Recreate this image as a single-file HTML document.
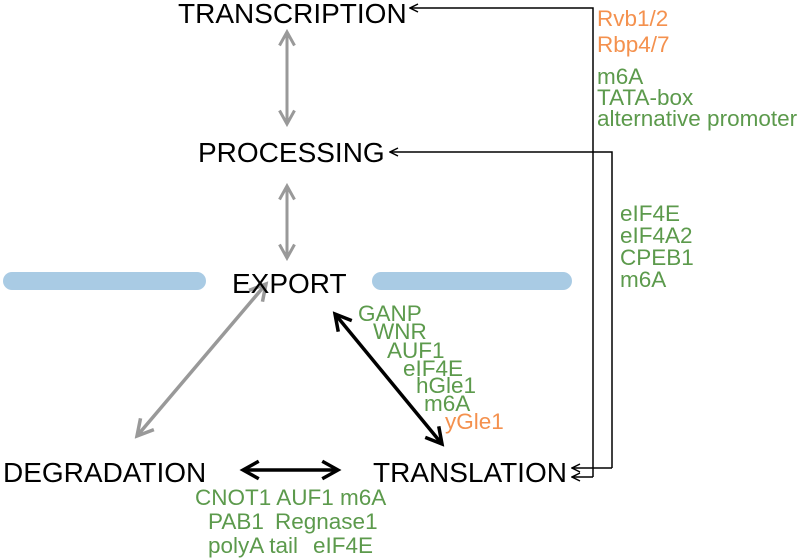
<!DOCTYPE html>
<html><head><style>
body{margin:0;background:#fff;}
.w{position:relative;width:800px;height:559px;overflow:hidden;font-family:"Liberation Sans",sans-serif;}
.t{position:absolute;white-space:nowrap;line-height:1;}
.b{font-size:28px;color:#000;}
.g{font-size:22.5px;color:#5c9a4c;}
.o{font-size:22.5px;color:#f4914e;}
</style></head><body><div class="w">
<svg width="800" height="559" style="position:absolute;left:0;top:0">
<defs>
<marker id="ag" markerWidth="6" markerHeight="6" refX="5" refY="3" orient="auto-start-reverse" markerUnits="strokeWidth"><path d="M0.5,0.5 L5,3 L0.5,5.5" fill="none" stroke="#999" stroke-width="1"/></marker>
<marker id="ab" markerWidth="6" markerHeight="6" refX="5" refY="3" orient="auto-start-reverse" markerUnits="strokeWidth"><path d="M0.5,0.5 L5,3 L0.5,5.5" fill="none" stroke="#000" stroke-width="1"/></marker>
<marker id="as" markerWidth="10" markerHeight="10" refX="9" refY="5" orient="auto" markerUnits="userSpaceOnUse"><path d="M1,1 L9,5 L1,9" fill="none" stroke="#000" stroke-width="1.5"/></marker>
</defs>
<rect x="3" y="272" width="203" height="18" rx="9" fill="#a9cbe4"/>
<rect x="372" y="272" width="200" height="18" rx="9" fill="#a9cbe4"/>
<line x1="287" y1="32" x2="287" y2="124" stroke="#999" stroke-width="3" marker-start="url(#ag)" marker-end="url(#ag)"/>
<line x1="287" y1="186" x2="287" y2="258" stroke="#999" stroke-width="3" marker-start="url(#ag)" marker-end="url(#ag)"/>
<line x1="266" y1="284" x2="137" y2="436" stroke="#999" stroke-width="3.5" marker-start="url(#ag)" marker-end="url(#ag)"/>
<line x1="335" y1="314" x2="442" y2="444" stroke="#000" stroke-width="3.5" marker-start="url(#ab)" marker-end="url(#ab)"/>
<line x1="243" y1="470" x2="338" y2="470" stroke="#000" stroke-width="3.5" marker-start="url(#ab)" marker-end="url(#ab)"/>
<polyline points="593,477 593,8 410,8" fill="none" stroke="#000" stroke-width="1.5" marker-end="url(#as)"/>
<polyline points="612,468 612,152 390,152" fill="none" stroke="#000" stroke-width="1.5" marker-end="url(#as)"/>
<polyline points="612,468 572,468" fill="none" stroke="#000" stroke-width="1.5" marker-end="url(#as)"/>
<polyline points="593,477 572,477" fill="none" stroke="#000" stroke-width="1.5" marker-end="url(#as)"/>
</svg>
<div class="t b" style="left:178px;top:0px">TRANSCRIPTION</div>
<div class="t b" style="left:198px;top:139px">PROCESSING</div>
<div class="t b" style="left:232px;top:270px">EXPORT</div>
<div class="t b" style="left:3px;top:459px">DEGRADATION</div>
<div class="t b" style="left:373px;top:459px">TRANSLATION</div>
<div class="t o" style="left:597px;top:8px">Rvb1/2</div>
<div class="t o" style="left:597px;top:34px">Rbp4/7</div>
<div class="t g" style="left:597px;top:66px">m6A</div>
<div class="t g" style="left:597px;top:87px">TATA-box</div>
<div class="t g" style="left:597px;top:108px">alternative promoter</div>
<div class="t g" style="left:620px;top:203px">eIF4E</div>
<div class="t g" style="left:620px;top:225px">eIF4A2</div>
<div class="t g" style="left:620px;top:247px">CPEB1</div>
<div class="t g" style="left:620px;top:269px">m6A</div>
<div class="t g" style="left:358px;top:303px">GANP</div>
<div class="t g" style="left:373px;top:321px">WNR</div>
<div class="t g" style="left:387px;top:340px">AUF1</div>
<div class="t g" style="left:403px;top:358px">eIF4E</div>
<div class="t g" style="left:416px;top:375px">hGle1</div>
<div class="t g" style="left:424px;top:393px">m6A</div>
<div class="t o" style="left:445px;top:411px">yGle1</div>
<div class="t g" style="left:195px;top:487px">CNOT1 AUF1 m6A</div>
<div class="t g" style="left:208px;top:511px">PAB1</div>
<div class="t g" style="left:275px;top:511px">Regnase1</div>
<div class="t g" style="left:208px;top:535px">polyA tail</div>
<div class="t g" style="left:313px;top:535px">eIF4E</div>
</div></body></html>
